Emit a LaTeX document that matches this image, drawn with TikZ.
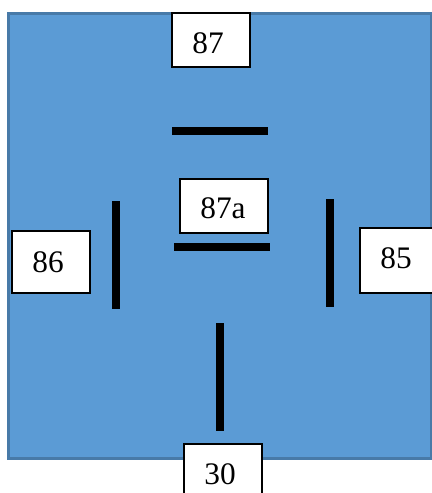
\documentclass[tikz,border=0pt]{standalone}
\usepackage{fontspec}
\setmainfont{Liberation Serif}
\definecolor{panelblue}{RGB}{91,155,213}
\definecolor{paneledge}{RGB}{72,122,168}
\tikzset{
  x=0.75pt,y=-0.75pt,
  panel/.style={draw=paneledge,fill=panelblue,line width=1.9pt,rectangle,anchor=north west,inner sep=0pt,outer sep=0pt},
  pinbox/.style={draw=black,fill=white,line width=1.5pt,rectangle,inner sep=0pt},
  pintext/.style={font=\fontsize{23.5}{26}\selectfont,text=black,inner sep=0pt},
  contact/.style={fill=black,draw=none,rectangle,inner sep=0pt}
}
\begin{document}
\begin{tikzpicture}
\useasboundingbox (0,0) rectangle (432,493);
\node[panel,minimum width=316.9pt,minimum height=333.75pt] (body) at (8.5,13.5) {};
\node[contact,minimum width=72pt,minimum height=6pt] (c87) at (220,131) {};
\node[contact,minimum width=72pt,minimum height=6pt] (c87a) at (222,247) {};
\node[contact,minimum width=6pt,minimum height=81pt] (c86) at (116,255) {};
\node[contact,minimum width=6pt,minimum height=81pt] (c85) at (330,253) {};
\node[contact,minimum width=6pt,minimum height=81pt] (c30) at (220,377) {};
\node[pinbox,minimum width=58pt,minimum height=40.5pt] (b87) at (211,40) {};
\node[pintext] (t87) at (208,43) {87};
\node[pinbox,minimum width=66pt,minimum height=41pt] (b87a) at (224,206) {};
\node[pintext] (t87a) at (223,208) {87a};
\node[pinbox,minimum width=58pt,minimum height=46.5pt] (b86) at (51,262) {};
\node[pintext] (t86) at (48,262) {86};
\node[pinbox,minimum width=60pt,minimum height=49pt] (b85) at (400,260.5) {};
\node[pintext] (t85) at (396,258) {85};
\node[pinbox,minimum width=58pt,minimum height=50pt] (b30) at (223,477) {};
\node[pintext] (t30) at (220,474) {30};
\end{tikzpicture}
\end{document}
